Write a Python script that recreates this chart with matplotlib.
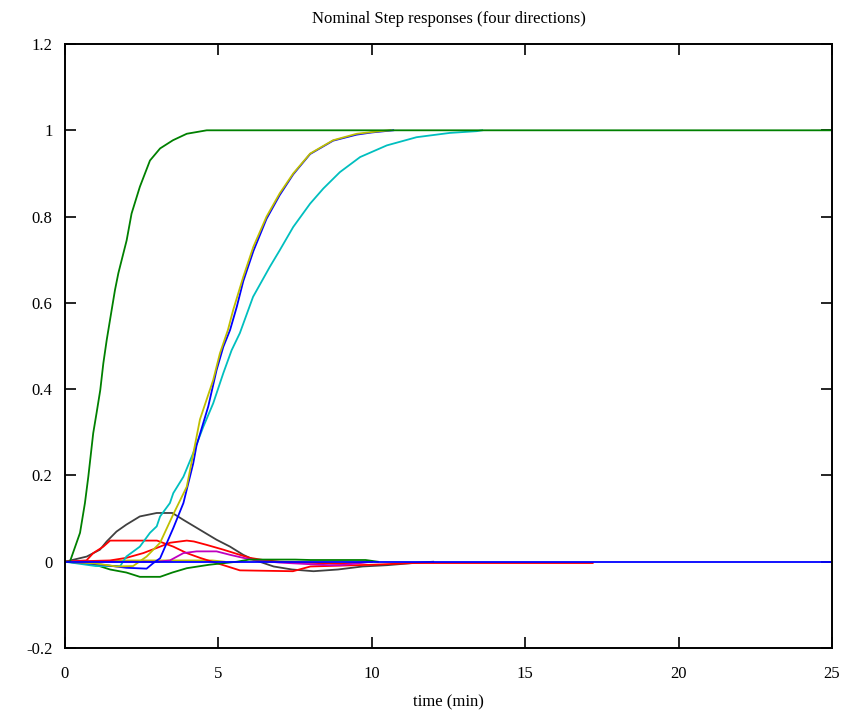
import matplotlib.pyplot as plt
from matplotlib.ticker import FormatStrFormatter

plt.rcParams['font.family'] = ['Liberation Serif', 'DejaVu Serif']

# curves (time in min, response)
green_fast_t = [0, 0.16, 0.49, 0.65, 0.76, 0.92, 1.03, 1.15, 1.25, 1.36, 1.52, 1.63, 1.74,
                2.01, 2.17, 2.44, 2.77, 3.1, 3.52, 3.97, 4.62, 25]
green_fast_y = [0, 0.0, 0.067, 0.136, 0.197, 0.298, 0.345, 0.398, 0.46, 0.514, 0.583, 0.63, 0.669,
                0.745, 0.807, 0.869, 0.93, 0.958, 0.977, 0.992, 1.0, 1.0]

blue_t = [0, 1.0, 2.0, 2.66, 2.88, 3.1, 3.53, 3.86, 4.18, 4.29, 4.67, 4.94, 5.16, 5.38, 5.6,
          5.81, 6.14, 6.57, 7.0, 7.44, 7.99, 8.74, 9.51, 10.0, 10.7]
blue_y = [0, -0.005, -0.014, -0.016, -0.003, 0.008, 0.078, 0.136, 0.228, 0.27, 0.36, 0.444, 0.498,
          0.537, 0.591, 0.65, 0.72, 0.795, 0.85, 0.898, 0.945, 0.976, 0.99, 0.995, 1.0]

yellow_t = [0, 1.0, 1.68, 2.22, 2.66, 3.1, 3.53, 3.97, 4.4, 4.83, 5.05, 5.31, 5.48, 5.81, 6.14,
            6.57, 7.0, 7.44, 7.99, 8.74, 9.51, 10.27, 10.6]
yellow_y = [0, -0.004, -0.011, -0.01, 0.012, 0.044, 0.11, 0.174, 0.33, 0.421, 0.483, 0.537, 0.583,
            0.66, 0.73, 0.8, 0.854, 0.9, 0.946, 0.977, 0.992, 0.998, 1.0]

cyan_t = [0, 0.5, 1.0, 1.8, 2.0, 2.44, 2.77, 2.99, 3.1, 3.42, 3.53, 3.86, 4.18, 4.51, 4.83, 5.16,
          5.43, 5.7, 6.13, 6.68, 7.0, 7.44, 7.99, 8.42, 8.96, 9.62, 10.49, 11.46, 12.55, 13.42, 13.6]
cyan_y = [0, -0.005, -0.01, -0.01, 0.012, 0.035, 0.067, 0.082, 0.105, 0.136, 0.159, 0.197, 0.252,
          0.313, 0.367, 0.437, 0.49, 0.53, 0.614, 0.684, 0.722, 0.776, 0.83, 0.865, 0.903, 0.938,
          0.965, 0.984, 0.994, 0.998, 1.0]

gray_t = [0, 0.71, 1.14, 1.36, 1.68, 2.0, 2.44, 2.99, 3.5, 3.86, 4.4, 4.94, 5.38, 5.81, 6.14, 6.8,
          7.4, 8.1, 8.9, 9.7, 10.5, 11.35, 12.0]
gray_y = [0, 0.012, 0.028, 0.047, 0.07, 0.086, 0.105, 0.113, 0.113, 0.097, 0.074, 0.051, 0.035,
          0.016, 0.005, -0.011, -0.018, -0.022, -0.018, -0.011, -0.008, -0.003, 0]

red_a_t = [0, 0.7, 0.92, 1.25, 1.47, 3.0, 3.53, 3.97, 4.4, 4.8, 5.3, 5.7, 7.43, 8.0, 10.0, 11.35, 17.2]
red_a_y = [0, 0.003, 0.02, 0.035, 0.049, 0.049, 0.035, 0.02, 0.009, 0, -0.011, -0.02, -0.022,
           -0.011, -0.007, -0.003, -0.003]

red_b_t = [0, 1.47, 2.0, 2.55, 3.1, 3.42, 3.97, 4.2, 4.62, 5.16, 5.7, 6.03, 6.46, 7.0, 9.0, 10.0]
red_b_y = [0, 0.003, 0.009, 0.02, 0.035, 0.044, 0.049, 0.047, 0.039, 0.028, 0.016, 0.009, 0.004,
           0.0, -0.005, 0]

magenta_t = [0, 3.0, 3.42, 3.86, 4.29, 4.94, 5.38, 5.81, 6.24, 7.0, 8.6, 9.0, 10.0]
magenta_y = [0, 0, 0.003, 0.02, 0.024, 0.024, 0.016, 0.009, 0.003, -0.002, -0.008, -0.008, 0]

green_dip_t = [0, 0.9, 1.47, 2.0, 2.44, 3.1, 3.5, 3.97, 4.7, 5.6, 6.0, 7.5, 8.0, 9.8, 10.2]
green_dip_y = [0, -0.005, -0.018, -0.025, -0.035, -0.035, -0.025, -0.015, -0.007, 0.0, 0.005,
               0.005, 0.004, 0.004, 0.0]

yellow_flat_t = [0, 2.2, 4.8, 5.2]
yellow_flat_y = [0, 0.003, 0.003, 0]

blue_zero_t = [0, 25]
blue_zero_y = [0, 0]

fig = plt.figure(figsize=(8.54, 7.10), dpi=100)
ax = fig.add_axes([0.0761, 0.0873, 0.8981, 0.8507])

lw = 1.3
ax.plot(yellow_flat_t, yellow_flat_y, color='#bfbf00', lw=lw)
ax.plot(gray_t, gray_y, color='#404040', lw=lw)
ax.plot(red_a_t, red_a_y, color='#ff0000', lw=lw)
ax.plot(red_b_t, red_b_y, color='#ff0000', lw=lw)
ax.plot(magenta_t, magenta_y, color='#bf00bf', lw=lw)
ax.plot(green_dip_t, green_dip_y, color='#008000', lw=lw)
ax.plot(cyan_t, cyan_y, color='#00bfbf', lw=lw)
ax.plot(blue_t, blue_y, color='#0000ff', lw=lw)
ax.plot(yellow_t, yellow_y, color='#bfbf00', lw=lw)
ax.plot(green_fast_t, green_fast_y, color='#008000', lw=lw)
ax.plot(blue_zero_t, blue_zero_y, color='#0000ff', lw=lw)

ax.set_xlim(0, 25)
ax.set_ylim(-0.2, 1.2)
ax.set_xticks([0, 5, 10, 15, 20, 25])
ax.set_yticks([-0.2, 0, 0.2, 0.4, 0.6, 0.8, 1.0, 1.2])
ax.yaxis.set_major_formatter(FormatStrFormatter('%g'))
ax.tick_params(direction='in', length=8, width=1.2, top=True, right=True, labelsize=12)
ax.tick_params(axis='x', pad=13)
ax.tick_params(axis='y', pad=9)
for s in ax.spines.values():
    s.set_linewidth(1.4)

ax.set_title("Nominal Step responses (four directions)", fontsize=12, pad=15)
ax.set_xlabel("time (min)", fontsize=12, labelpad=9)

fig.savefig("out.png", dpi=100)
